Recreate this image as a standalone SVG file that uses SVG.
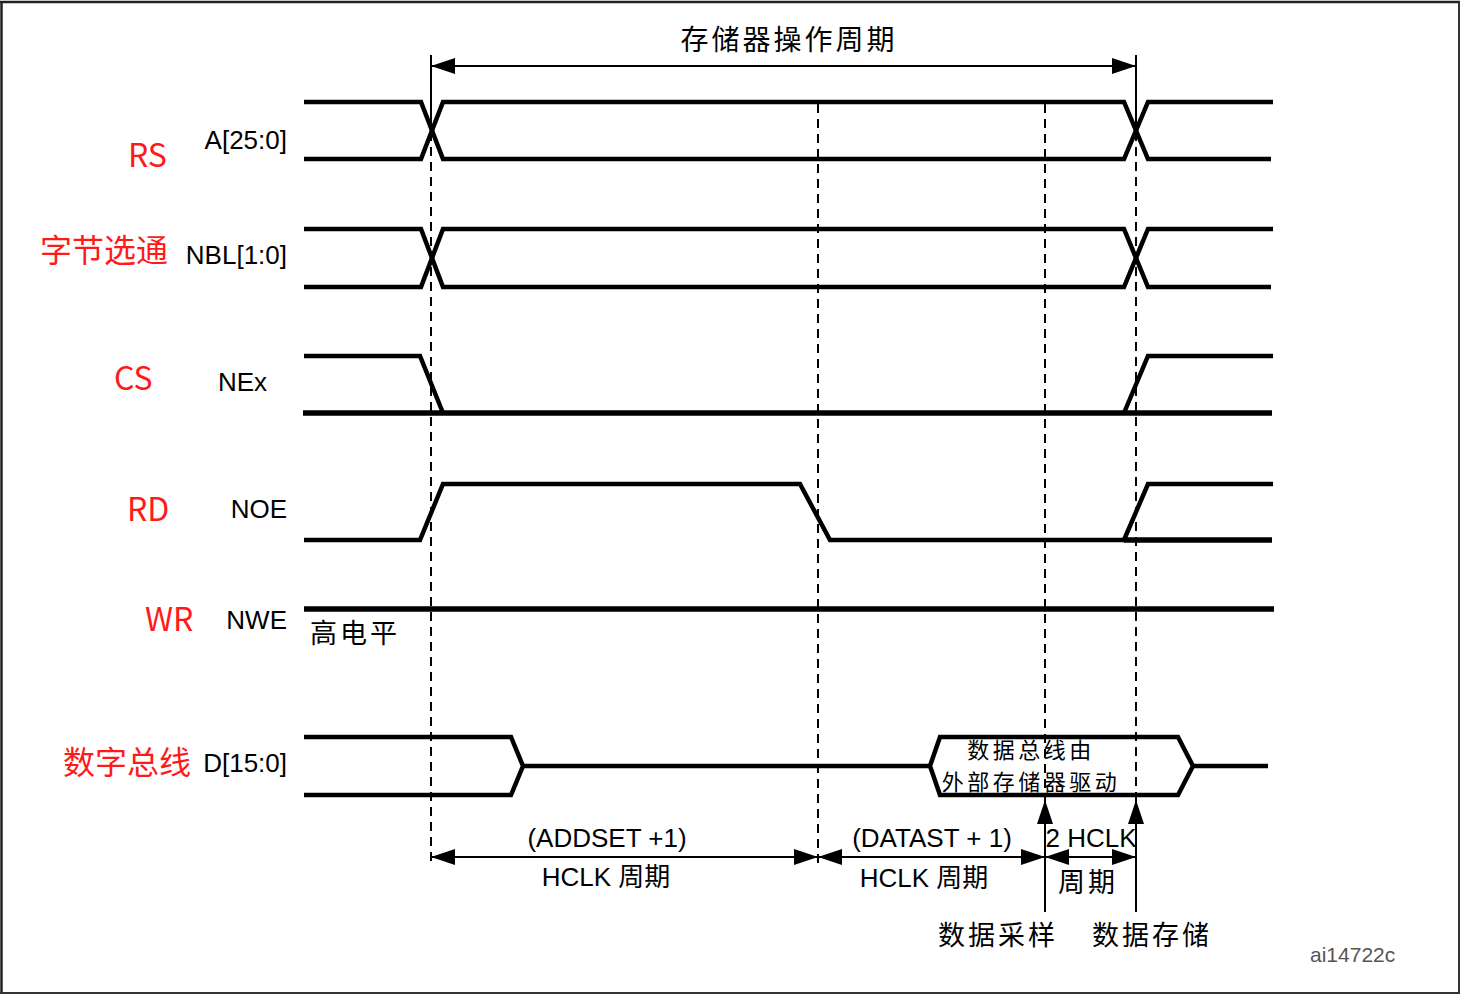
<svg xmlns="http://www.w3.org/2000/svg" width="1464" height="994" viewBox="0 0 1464 994">
<defs>
<marker id="ah" markerUnits="userSpaceOnUse" markerWidth="24" markerHeight="16" viewBox="0 0 24 16" refX="24" refY="8" orient="auto-start-reverse">
<path d="M0,0 L24,8 L0,16 z" fill="#000"/>
</marker>
<style>
.sig{fill:none;stroke:#000;stroke-width:4.5;stroke-linejoin:miter}
.thick{fill:none;stroke:#000;stroke-width:5.5}
.dash{fill:none;stroke:#000;stroke-width:2;stroke-dasharray:9 6}
.dim{fill:none;stroke:#000;stroke-width:2}
.red{font-family:"Noto Sans CJK SC","Noto Sans",sans-serif;font-size:32px;fill:#ff1a1a}
.lbl{font-family:"Liberation Sans","Noto Sans CJK SC",sans-serif;font-size:26px;fill:#000}
.cjk{font-family:"Noto Sans CJK SC",sans-serif;fill:#000}
</style>
</defs>
<rect x="1" y="2" width="1458" height="990" fill="#fff" stroke="none"/>
<path d="M1.5,994 L1.5,2 M0,2 L1460,2" stroke="#222" stroke-width="2.5" fill="none"/>
<path d="M1459,2 L1459,993 L0,993" stroke="#333" stroke-width="2" fill="none"/>

<g id="labels">
<text class="red" x="128" y="167">RS</text>
<text class="red" x="40" y="262">字节选通</text>
<text class="red" x="114" y="390">CS</text>
<text class="red" x="127" y="521">RD</text>
<text class="red" x="145" y="631">WR</text>
<text class="red" x="63" y="774">数字总线</text>
<text class="lbl" x="287" y="149" text-anchor="end">A[25:0]</text>
<text class="lbl" x="287" y="264" text-anchor="end">NBL[1:0]</text>
<text class="lbl" x="218" y="391">NEx</text>
<text class="lbl" x="287" y="518" text-anchor="end">NOE</text>
<text class="lbl" x="287" y="629" text-anchor="end">NWE</text>
<text class="lbl" x="287" y="772" text-anchor="end">D[15:0]</text>
</g>

<g id="sig-addr">
<path class="sig" d="M304,102 L421,102 L443,159 L1124,159 L1148,102 L1273,102"/>
<path class="sig" d="M304,159 L421,159 L443,102 L1124,102 L1148,159 L1271,159"/>
</g>
<g id="sig-nbl">
<path class="sig" d="M304,229 L421,229 L443,287 L1124,287 L1148,229 L1273,229"/>
<path class="sig" d="M304,287 L421,287 L443,229 L1124,229 L1148,287 L1271,287"/>
</g>
<g id="sig-nex">
<path class="sig" d="M304,356 L420,356 L443,413"/>
<path class="sig" d="M1124,413 L1148,356 L1273,356"/>
<path class="thick" d="M303,413 L1272,413"/>
</g>
<g id="sig-noe">
<path class="sig" d="M304,540 L420,540 L443,484 L800,484 L830,540 L1124,540 L1148,484 L1273,484"/>
<path class="thick" d="M1124,540 L1272,540"/>
</g>
<g id="sig-nwe">
<path class="thick" d="M304,609 L1274,609"/>
<text class="cjk" x="310" y="643" font-size="27" letter-spacing="3">高电平</text>
</g>
<g id="sig-data">
<path class="sig" d="M304,737 L511,737 L523,766 L511,795 L304,795"/>
<path class="sig" d="M523,766 L930,766"/>
<path class="sig" d="M930,766 L940,737 L1178,737 L1193,766 L1178,795 L940,795 Z"/>
<path class="sig" d="M1193,766 L1268,766"/>
<text class="cjk" x="1031" y="758" font-size="22" letter-spacing="3.5" text-anchor="middle">数据总线由</text>
<text class="cjk" x="1031" y="790" font-size="22" letter-spacing="3.5" text-anchor="middle">外部存储器驱动</text>
</g>

<g id="connectors">
<path class="dim" d="M431,55 L431,130 M1136,55 L1136,130"/>
<path class="dim" d="M431,66 L1136,66" marker-start="url(#ah)" marker-end="url(#ah)"/>
<path class="dash" d="M431,132 L431,866"/>
<path class="dash" d="M818,104 L818,866"/>
<path class="dash" d="M1045,104 L1045,800"/>
<path class="dash" d="M1136,132 L1136,800"/>
<path class="dim" d="M431,857 L818,857" marker-start="url(#ah)" marker-end="url(#ah)"/>
<path class="dim" d="M818,857 L1045,857" marker-start="url(#ah)" marker-end="url(#ah)"/>
<path class="dim" d="M1045,857 L1136,857" marker-start="url(#ah)" marker-end="url(#ah)"/>
<path class="dim" d="M1045,912 L1045,800" marker-end="url(#ah)"/>
<path class="dim" d="M1136,912 L1136,800" marker-end="url(#ah)"/>
</g>

<g id="annotations">
<text class="cjk" x="789" y="50" font-size="28" letter-spacing="3" text-anchor="middle">存储器操作周期</text>
<text class="lbl" x="607" y="847" text-anchor="middle" font-size="27">(ADDSET +1)</text>
<text class="lbl" x="606" y="886" text-anchor="middle" font-size="27">HCLK 周期</text>
<text class="lbl" x="932" y="847" text-anchor="middle" font-size="27">(DATAST + 1)</text>
<text class="lbl" x="924" y="887" text-anchor="middle" font-size="27">HCLK 周期</text>
<text class="lbl" x="1091" y="847" text-anchor="middle">2 HCLK</text>
<text class="cjk" x="1088" y="892" font-size="27" letter-spacing="3" text-anchor="middle">周期</text>
<text class="cjk" x="998" y="945" font-size="27" letter-spacing="3" text-anchor="middle">数据采样</text>
<text class="cjk" x="1152" y="945" font-size="27" letter-spacing="3" text-anchor="middle">数据存储</text>
<text x="1310" y="962" font-family="Liberation Sans, sans-serif" font-size="21" fill="#555">ai14722c</text>
</g>
</svg>
